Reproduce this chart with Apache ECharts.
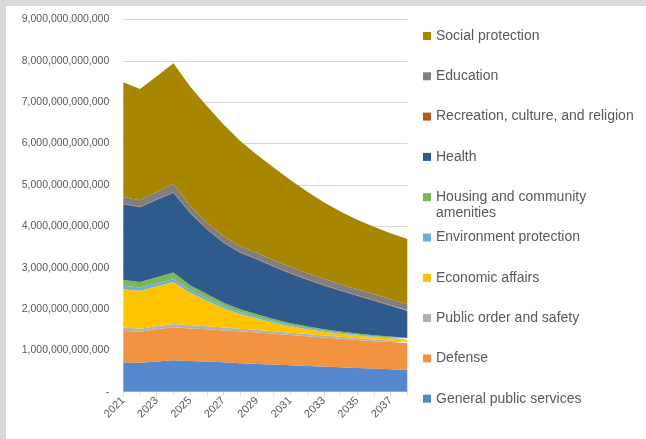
<!DOCTYPE html>
<html>
<head>
<meta charset="utf-8">
<script src="https://cdn.jsdelivr.net/npm/echarts@6/dist/echarts.min.js"></script>
<style>
  html, body { margin: 0; padding: 0; background: #d9d9d9; }
  #panel { position: absolute; left: 6px; top: 6px; width: 640px; height: 433px; background: #ffffff; }
  #chart { position: absolute; left: -6px; top: -6px; width: 646px; height: 439px; }
</style>
</head>
<body>
<div id="panel"><div id="chart"></div></div>
<script>
// years on the x axis
const years = ['2021', '2022', '2023', '2024', '2025', '2026', '2027', '2028', '2029',
  '2030', '2031', '2032', '2033', '2034', '2035', '2036', '2037', '2038']

// values in trillions, bottom layer first
const generalPublicServices = [0.71, 0.70, 0.73, 0.76, 0.74, 0.73, 0.71, 0.69, 0.67, 0.655, 0.64, 0.62, 0.61, 0.59, 0.575, 0.56, 0.54, 0.525]
const defense = [0.76, 0.75, 0.78, 0.80, 0.79, 0.78, 0.77, 0.77, 0.76, 0.745, 0.73, 0.72, 0.70, 0.69, 0.675, 0.66, 0.66, 0.645]
const publicOrder = [0.08, 0.075, 0.075, 0.08, 0.075, 0.07, 0.07, 0.065, 0.06, 0.06, 0.055, 0.055, 0.05, 0.05, 0.045, 0.045, 0.04, 0.04]
const economicAffairs = [0.93, 0.915, 0.965, 1.01, 0.795, 0.62, 0.47, 0.355, 0.28, 0.21, 0.155, 0.115, 0.09, 0.07, 0.065, 0.055, 0.05, 0.05]
const environment = [0.08, 0.08, 0.075, 0.07, 0.065, 0.06, 0.05, 0.045, 0.04, 0.035, 0.03, 0.03, 0.025, 0.025, 0.02, 0.02, 0.02, 0.02]
const housing = [0.14, 0.13, 0.145, 0.16, 0.11, 0.10, 0.08, 0.07, 0.06, 0.05, 0.045, 0.04, 0.035, 0.03, 0.03, 0.025, 0.025, 0.02]
const health = [1.83, 1.81, 1.87, 1.93, 1.745, 1.57, 1.45, 1.365, 1.33, 1.265, 1.205, 1.13, 1.06, 0.985, 0.91, 0.835, 0.745, 0.66]
const recreation = [0.015, 0.015, 0.015, 0.015, 0.015, 0.015, 0.015, 0.015, 0.015, 0.015, 0.015, 0.015, 0.015, 0.015, 0.015, 0.015, 0.015, 0.015]
const education = [0.165, 0.155, 0.175, 0.195, 0.155, 0.145, 0.145, 0.145, 0.145, 0.145, 0.145, 0.145, 0.145, 0.145, 0.14, 0.14, 0.14, 0.14]
const socialProtection = [2.77, 2.69, 2.80, 2.92, 2.89, 2.82, 2.70, 2.54, 2.37, 2.24, 2.10, 1.97, 1.85, 1.76, 1.685, 1.635, 1.595, 1.575]

// y axis ticks (trillions)
const yTicks = [0, 1, 2, 3, 4, 5, 6, 7, 8, 9]

const layers = [
  { name: 'General public services', data: generalPublicServices, color: '#5588cd' },
  { name: 'Defense', data: defense, color: '#f29340' },
  { name: 'Public order and safety', data: publicOrder, color: '#b2b2b2' },
  { name: 'Economic affairs', data: economicAffairs, color: '#ffc400' },
  { name: 'Environment protection', data: environment, color: '#6badde' },
  { name: 'Housing and community amenities', data: housing, color: '#7bb75a' },
  { name: 'Health', data: health, color: '#2f5b8c' },
  { name: 'Recreation, culture, and religion', data: recreation, color: '#b35b16' },
  { name: 'Education', data: education, color: '#7f7f7f' },
  { name: 'Social protection', data: socialProtection, color: '#a98600' }
]

const textColor = '#595959'
const gridColor = '#d9d9d9'

const chart = echarts.init(document.getElementById('chart'))

chart.setOption({
  animation: false,
  textStyle: { fontFamily: 'Liberation Sans' },
  grid: { left: 123.3, right: 238.7, top: 19.5, bottom: 47.3 },
  legend: {
    orient: 'vertical',
    left: 418,
    top: 22.5,
    icon: 'rect',
    itemWidth: 8,
    itemHeight: 8,
    itemGap: 23.3,
    selectedMode: false,
    data: layers.map(l => l.name).reverse(),
    // second line of the housing label is drawn below as its own text
    formatter: name => name === 'Housing and community amenities' ? 'Housing and community' : name,
    textStyle: { color: textColor, fontSize: 14, lineHeight: 17 }
  },
  graphic: [{
    type: 'text',
    left: 436,
    top: 206,
    style: { text: 'amenities', fill: textColor, fontSize: 14, fontFamily: 'Liberation Sans' }
  }],
  xAxis: {
    type: 'category',
    data: years,
    boundaryGap: false,
    axisLine: { lineStyle: { color: gridColor } },
    axisTick: { show: true, interval: 0, length: 4, lineStyle: { color: gridColor } },
    axisLabel: { interval: 1, rotate: 45, color: textColor, fontSize: 11, margin: 7 }
  },
  yAxis: {
    type: 'value',
    min: yTicks[0],
    max: yTicks[yTicks.length - 1],
    interval: 1,
    axisLine: { show: false },
    axisTick: { show: false },
    splitLine: { lineStyle: { color: gridColor } },
    axisLabel: {
      color: textColor,
      fontSize: 10.5,
      margin: 14,
      formatter: v => v === 0 ? '-' : (v * 1e12).toLocaleString('en-US')
    }
  },
  series: layers.map(l => ({
    name: l.name,
    type: 'line',
    stack: 'total',
    data: l.data,
    symbol: 'none',
    lineStyle: { width: 0 },
    itemStyle: { color: l.color },
    areaStyle: { color: l.color, opacity: 1 }
  }))
})
</script>
</body>
</html>
